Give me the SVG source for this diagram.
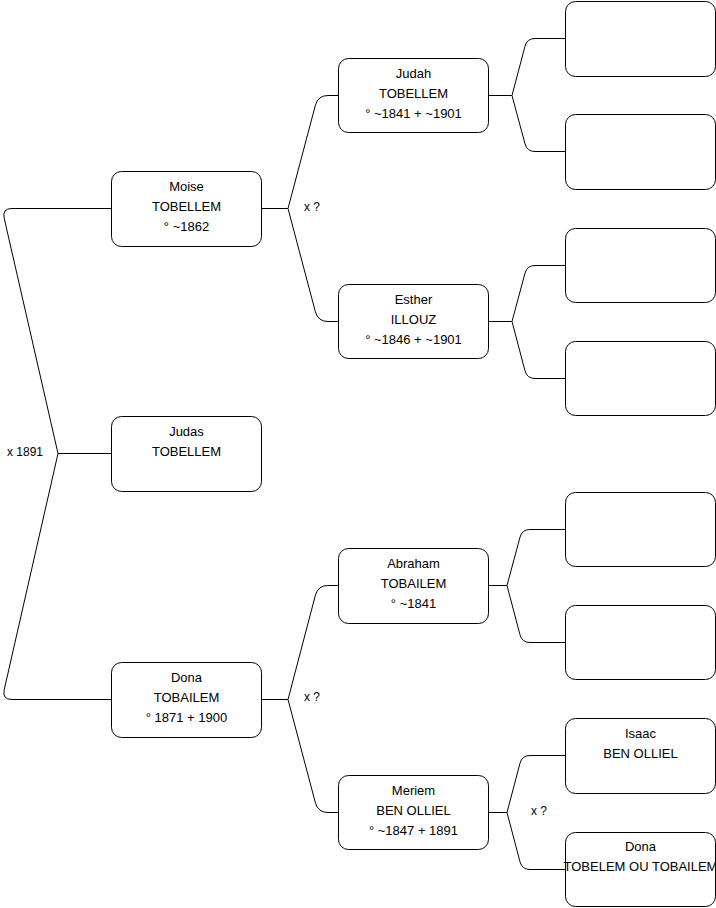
<svg xmlns="http://www.w3.org/2000/svg" width="716" height="908" viewBox="0 0 716 908">
<style>
.box{fill:#fff;stroke:#000;stroke-width:1}
.t{font-family:"Liberation Sans",Arial,Helvetica,sans-serif;font-size:13px;fill:#000;text-anchor:middle}
.l{font-family:"Liberation Sans",Arial,Helvetica,sans-serif;font-size:12px;fill:#000}
.c{fill:none;stroke:#000;stroke-width:1}
</style>
<rect width="716" height="908" fill="#fff"/>
<g id="connectors">
<path class="c" d="M111.5 453.5H58L4.2 218.2Q2 208.5 12 208.5H111.5"/>
<path class="c" d="M111.5 453.5H58L4.2 689.8Q2 699.5 12 699.5H111.5"/>
<path class="c" d="M261.5 208.5H288L315.4 105.2Q318 95.5 328 95.5H338.5"/>
<path class="c" d="M261.5 208.5H288L315.4 311.8Q318 321.5 328 321.5H338.5"/>
<path class="c" d="M261.5 699.5H288L315.4 595.2Q318 585.5 328 585.5H338.5"/>
<path class="c" d="M261.5 699.5H288L315.4 802.8Q318 812.5 328 812.5H338.5"/>
<path class="c" d="M488.5 95.5H512L525 46.2Q527 38.5 535 38.5H565.5"/>
<path class="c" d="M488.5 95.5H512L525 143.8Q527 151.5 535 151.5H565.5"/>
<path class="c" d="M488.5 321.5H512L525 273.2Q527 265.5 535 265.5H565.5"/>
<path class="c" d="M488.5 321.5H512L525 370.8Q527 378.5 535 378.5H565.5"/>
<path class="c" d="M488.5 585.5H507L520 537.2Q522 529.5 530 529.5H565.5"/>
<path class="c" d="M488.5 585.5H507L520 634.8Q522 642.5 530 642.5H565.5"/>
<path class="c" d="M488.5 812.5H507L520 763.2Q522 755.5 530 755.5H565.5"/>
<path class="c" d="M488.5 812.5H507L520 861.8Q522 869.5 530 869.5H565.5"/>
<text class="l" x="7" y="456">x 1891</text>
<text class="l" x="304" y="211">x ?</text>
<text class="l" x="304" y="701">x ?</text>
<text class="l" x="531" y="815">x ?</text>
</g>
<g id="moise"><rect class="box" x="111.5" y="171.5" width="150" height="75" rx="10"/><text class="t" x="186.5" y="190.5">Moise</text><text class="t" x="186.5" y="210.5">TOBELLEM</text><text class="t" x="186.5" y="230.5">° ~1862</text></g>
<g id="judas"><rect class="box" x="111.5" y="416.5" width="150" height="75" rx="10"/><text class="t" x="186.5" y="435.5">Judas</text><text class="t" x="186.5" y="455.5">TOBELLEM</text></g>
<g id="dona"><rect class="box" x="111.5" y="662.5" width="150" height="75" rx="10"/><text class="t" x="186.5" y="681.5">Dona</text><text class="t" x="186.5" y="701.5">TOBAILEM</text><text class="t" x="186.5" y="721.5">° 1871 + 1900</text></g>
<g id="judah"><rect class="box" x="338.5" y="58.5" width="150" height="74" rx="10"/><text class="t" x="413.5" y="77.5">Judah</text><text class="t" x="413.5" y="97.5">TOBELLEM</text><text class="t" x="413.5" y="117.5">° ~1841 + ~1901</text></g>
<g id="esther"><rect class="box" x="338.5" y="284.5" width="150" height="74" rx="10"/><text class="t" x="413.5" y="303.5">Esther</text><text class="t" x="413.5" y="323.5">ILLOUZ</text><text class="t" x="413.5" y="343.5">° ~1846 + ~1901</text></g>
<g id="abraham"><rect class="box" x="338.5" y="548.5" width="150" height="75" rx="10"/><text class="t" x="413.5" y="567.5">Abraham</text><text class="t" x="413.5" y="587.5">TOBAILEM</text><text class="t" x="413.5" y="607.5">° ~1841</text></g>
<g id="meriem"><rect class="box" x="338.5" y="775.5" width="150" height="74" rx="10"/><text class="t" x="413.5" y="794.5">Meriem</text><text class="t" x="413.5" y="814.5">BEN OLLIEL</text><text class="t" x="413.5" y="834.5">° ~1847 + 1891</text></g>
<g id="judah-father"><rect class="box" x="565.5" y="1.5" width="150" height="75" rx="10"/></g>
<g id="judah-mother"><rect class="box" x="565.5" y="114.5" width="150" height="75" rx="10"/></g>
<g id="esther-father"><rect class="box" x="565.5" y="228.5" width="150" height="74" rx="10"/></g>
<g id="esther-mother"><rect class="box" x="565.5" y="341.5" width="150" height="74" rx="10"/></g>
<g id="abraham-father"><rect class="box" x="565.5" y="492.5" width="150" height="74" rx="10"/></g>
<g id="abraham-mother"><rect class="box" x="565.5" y="605.5" width="150" height="74" rx="10"/></g>
<g id="isaac"><rect class="box" x="565.5" y="718.5" width="150" height="75" rx="10"/><text class="t" x="640.5" y="737.5">Isaac</text><text class="t" x="640.5" y="757.5">BEN OLLIEL</text></g>
<g id="dona2"><rect class="box" x="565.5" y="832.5" width="150" height="74" rx="10"/><text class="t" x="640.5" y="851">Dona</text><text class="t" x="640.5" y="871">TOBELEM OU TOBAILEM</text></g>
</svg>
